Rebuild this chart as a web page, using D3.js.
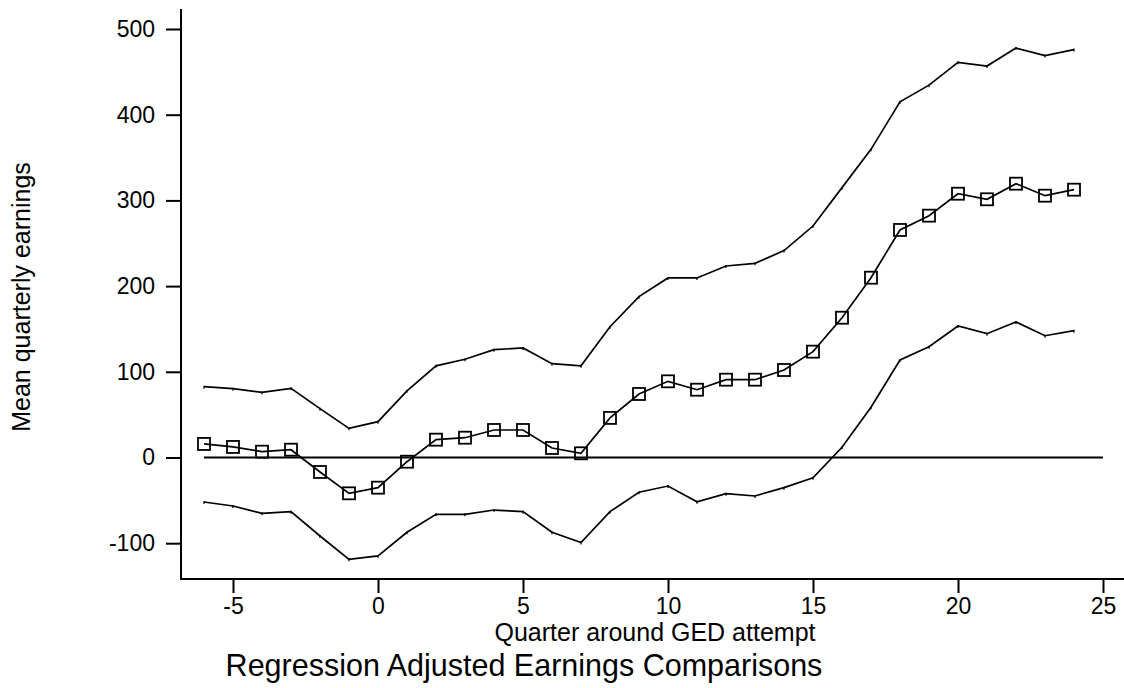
<!DOCTYPE html>
<html>
<head>
<meta charset="utf-8">
<script src="https://cdn.jsdelivr.net/npm/d3@7"></script>
<style>
  html, body { margin: 0; padding: 0; background: #fff; }
  svg { display: block; font-family: "Liberation Sans", Arial, sans-serif; }
</style>
</head>
<body>
<div id="chart"></div>
<script>
// quarters around the GED attempt
const quarters = [-6, -5, -4, -3, -2, -1, 0, 1, 2, 3, 4, 5, 6, 7, 8, 9, 10, 11, 12, 13, 14, 15, 16, 17, 18, 19, 20, 21, 22, 23, 24];

// upper bound, point estimate, lower bound
const upper = [82.6, 80.3, 76, 80.7, 57, 34, 41.8, 77.8, 107, 114.6, 125.8, 127.8, 109.5, 107, 152.6, 187.7, 209.5, 209.5, 223.5, 226.6, 241.4, 270.1, 314.9, 359.6, 415, 434.5, 461.1, 456.8, 477.8, 469, 476];
const mean = [15.8, 12.3, 6.8, 9.1, -16.9, -41.8, -35.2, -4.9, 20.8, 23.1, 32.1, 32.1, 11.1, 4.9, 46.2, 74.1, 88.9, 79.1, 90.8, 90.8, 102.1, 123.5, 163.1, 209.8, 265.5, 282.2, 307.8, 301.3, 319.5, 305.5, 312.5];
const lower = [-51.9, -56.6, -65.1, -63.2, -91.6, -118.8, -114.9, -87.3, -66.3, -66.3, -61.3, -63.2, -87.3, -99.2, -63.2, -40.6, -33.3, -51.6, -42.2, -44.9, -35.2, -23.6, 11.9, 58.6, 113.8, 129.3, 153.4, 144.5, 158.1, 142.1, 148];

const xTicks = [-5, 0, 5, 10, 15, 20, 25];
const yTicks = [-100, 0, 100, 200, 300, 400, 500];

const width = 1124;
const height = 688;
const plot = { left: 181, right: 1124, top: 9, bottom: 579 };

const x = d3.scaleLinear().domain([-6, 25]).range([204, 1103]);
const y = d3.scaleLinear().domain([0, 500]).range([457.5, 29]);

const svg = d3.select("#chart").append("svg")
  .attr("width", width)
  .attr("height", height);

// axes (plain hyphen for negatives, like the original)
const fmt = d => String(d);

const yAxis = svg.append("g")
  .attr("transform", `translate(${plot.left},0)`)
  .call(d3.axisLeft(y).tickValues(yTicks).tickSize(15).tickPadding(11).tickFormat(fmt));
yAxis.select(".domain").remove();
yAxis.selectAll(".tick line").attr("stroke", "#000").attr("stroke-width", 2);
yAxis.selectAll(".tick text").attr("font-size", 23).attr("fill", "#000").attr("font-family", null);

const xAxis = svg.append("g")
  .attr("transform", `translate(0,${plot.bottom})`)
  .call(d3.axisBottom(x).tickValues(xTicks).tickSize(14).tickPadding(5).tickFormat(fmt));
xAxis.select(".domain").remove();
xAxis.selectAll(".tick line").attr("stroke", "#000").attr("stroke-width", 2);
xAxis.selectAll(".tick text").attr("font-size", 23).attr("fill", "#000").attr("font-family", null);

svg.append("line")
  .attr("x1", plot.left).attr("x2", plot.left)
  .attr("y1", plot.top).attr("y2", plot.bottom + 1)
  .attr("stroke", "#000").attr("stroke-width", 2);
svg.append("line")
  .attr("x1", plot.left - 1).attr("x2", plot.right)
  .attr("y1", plot.bottom).attr("y2", plot.bottom)
  .attr("stroke", "#000").attr("stroke-width", 2);

// zero reference line
svg.append("line")
  .attr("x1", x(-6)).attr("x2", x(25))
  .attr("y1", y(0)).attr("y2", y(0))
  .attr("stroke", "#000").attr("stroke-width", 2);

const line = d3.line()
  .x((d, i) => x(quarters[i]))
  .y(d => y(d));

[upper, lower].forEach(series => {
  svg.append("path")
    .datum(series)
    .attr("d", line)
    .attr("fill", "none")
    .attr("stroke", "#000")
    .attr("stroke-width", 1.7);
  svg.append("g")
    .selectAll("line")
    .data(series)
    .join("line")
    .attr("x1", (d, i) => x(quarters[i]))
    .attr("x2", (d, i) => x(quarters[i]))
    .attr("y1", d => y(d) - 1)
    .attr("y2", d => y(d) + 2)
    .attr("stroke", "#000")
    .attr("stroke-width", 1.2);
});

svg.append("path")
  .datum(mean)
  .attr("d", line)
  .attr("fill", "none")
  .attr("stroke", "#000")
  .attr("stroke-width", 1.7);

const sq = 12;
svg.append("g")
  .selectAll("rect")
  .data(mean)
  .join("rect")
  .attr("x", (d, i) => x(quarters[i]) - sq / 2)
  .attr("y", d => y(d) - sq / 2)
  .attr("width", sq)
  .attr("height", sq)
  .attr("fill", "none")
  .attr("stroke", "#000")
  .attr("stroke-width", 1.8);

// labels
svg.append("text")
  .attr("transform", "translate(30,297) rotate(-90)")
  .attr("text-anchor", "middle")
  .attr("font-size", 25)
  .text("Mean quarterly earnings");

svg.append("text")
  .attr("x", 655)
  .attr("y", 641)
  .attr("text-anchor", "middle")
  .attr("font-size", 25)
  .text("Quarter around GED attempt");

svg.append("text")
  .attr("x", 524)
  .attr("y", 676)
  .attr("text-anchor", "middle")
  .attr("font-size", 30.5)
  .text("Regression Adjusted Earnings Comparisons");
</script>
</body>
</html>
